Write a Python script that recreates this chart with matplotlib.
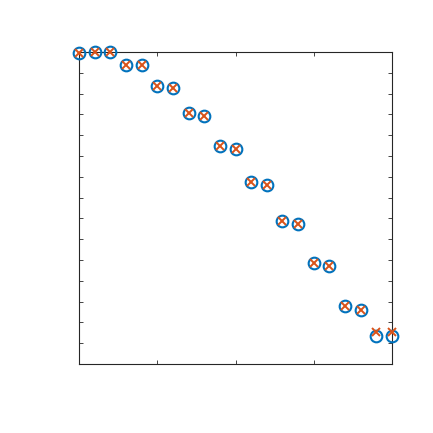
import matplotlib
matplotlib.use("Agg")
import matplotlib.pyplot as plt
import numpy as np

x = list(range(21))
circles = [14.94, 15.0, 15.0, 14.39, 14.36, 13.37, 13.27, 12.05, 11.91, 10.48, 10.34,
           8.76, 8.61, 6.89, 6.72, 4.87, 4.71, 2.77, 2.61, 1.33, 1.33]
crosses = [14.94, 15.0, 15.0, 14.39, 14.36, 13.37, 13.27, 12.05, 11.91, 10.48, 10.34,
           8.76, 8.61, 6.89, 6.72, 4.87, 4.71, 2.77, 2.61, 1.56, 1.56]
xticks = [0, 5, 10, 15, 20]
yticks = list(range(0, 16))

fig = plt.figure(figsize=(4.33, 4.33), dpi=100)
ax = fig.add_axes([79/433, (433-364)/433, 313/433, 312/433])
ax.plot(x, circles, linestyle='none', marker='o', markersize=8.4, markerfacecolor='none',
        markeredgecolor='#0072BD', markeredgewidth=1.5, clip_on=False, zorder=3)
ax.plot(x, crosses, linestyle='none', marker='x', markersize=6.4,
        markeredgecolor='#D95319', markeredgewidth=1.4, clip_on=False, zorder=4)
ax.set_xlim(0, 20)
ax.set_ylim(0, 15)
ax.set_xticks(xticks)
ax.set_yticks(yticks)
ax.set_xticklabels([])
ax.set_yticklabels([])
ax.tick_params(direction='in', top=True, right=True, length=3, width=0.6, color='#262626')
for s in ax.spines.values():
    s.set_color('#262626')
    s.set_linewidth(0.8)
fig.savefig('out.png', dpi=100)
